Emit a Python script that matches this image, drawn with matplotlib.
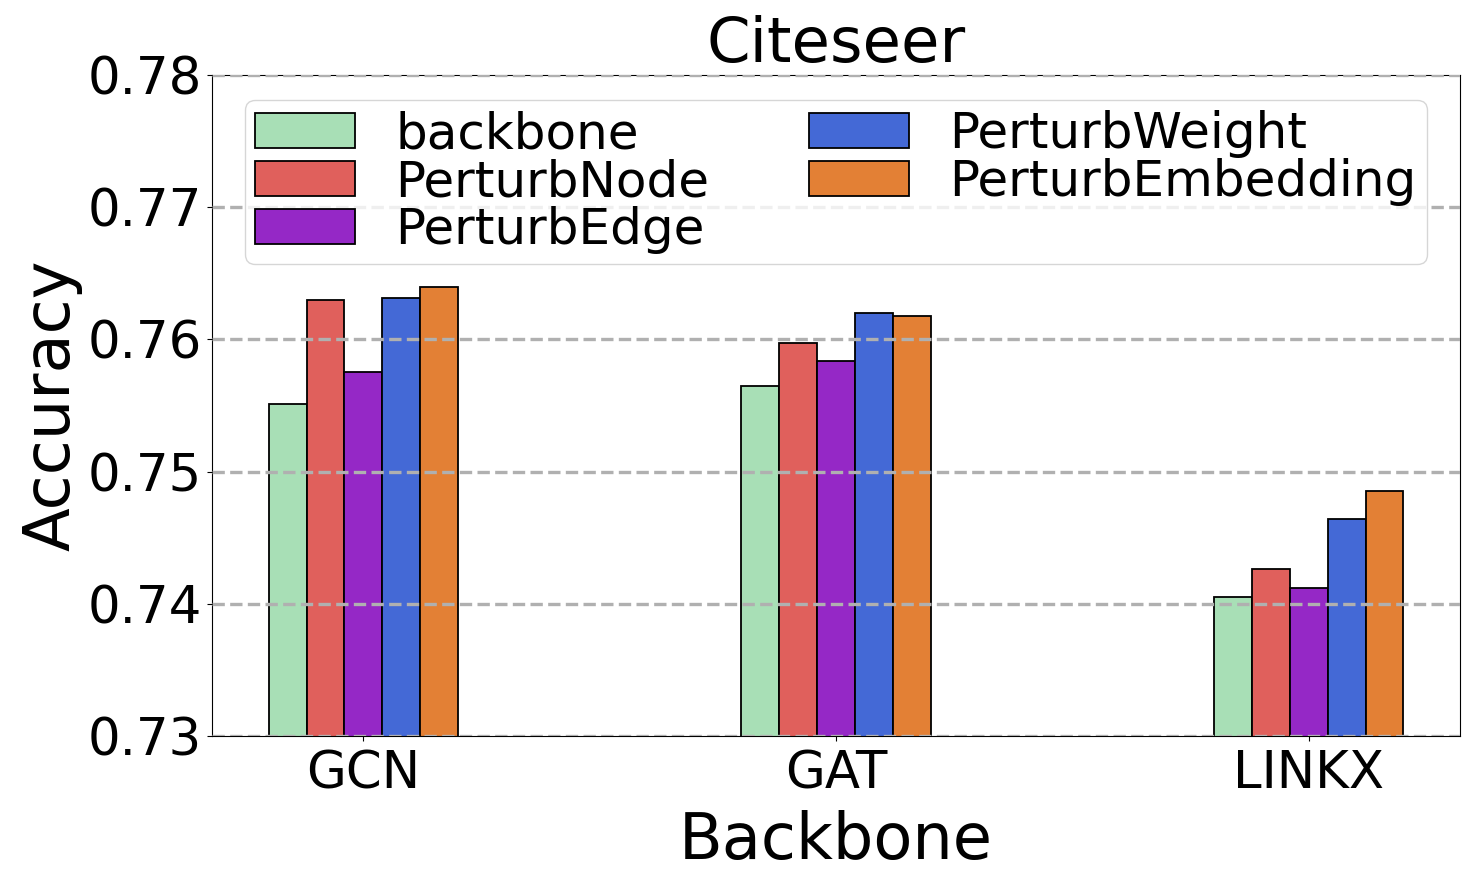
import matplotlib
matplotlib.use('Agg')
import matplotlib.pyplot as plt
import numpy as np

backbones = ['GCN', 'GAT', 'LINKX']
methods = ['backbone', 'PerturbNode', 'PerturbEdge', 'PerturbWeight', 'PerturbEmbedding']

backbone_acc = [0.7551, 0.7565, 0.7405]
node_acc = [0.7630, 0.7597, 0.7426]
edge_acc = [0.7575, 0.7584, 0.7412]
weight_acc = [0.7631, 0.7620, 0.7464]
embedding_acc = [0.7640, 0.7618, 0.7485]

colors = ['#a8dfb6', '#e0605c', '#9528c6', '#4469d6', '#e38035']

all_acc = [backbone_acc, node_acc, edge_acc, weight_acc, embedding_acc]

fig, ax = plt.subplots(figsize=(14.76, 8.86), dpi=100)
fig.subplots_adjust(left=0.1436, right=0.9892, top=0.9153, bottom=0.1693)

x = np.arange(len(backbones))
width = 0.08
for i in range(len(methods)):
    ax.bar(x + (i - 2) * width, all_acc[i], width, color=colors[i],
           edgecolor='black', linewidth=1.3, label=methods[i])

ax.set_ylim(0.73, 0.78)
ax.set_yticks([0.73, 0.74, 0.75, 0.76, 0.77, 0.78])
ax.set_xticks(x)
ax.set_xticklabels(backbones)
ax.tick_params(axis='both', labelsize=37)
ax.tick_params(axis='x', pad=6)
ax.yaxis.grid(True, linestyle='--', color='#b0b0b0', linewidth=2.4)
ax.set_axisbelow(False)

ax.set_xlabel('Backbone', fontsize=46, labelpad=8)
ax.set_ylabel('Accuracy', fontsize=46)
ax.set_title('Citeseer', fontsize=45)

ax.legend(loc='upper center', ncol=2, fontsize=36, labelspacing=0.0,
          borderpad=0.2)

plt.savefig('out.png')
